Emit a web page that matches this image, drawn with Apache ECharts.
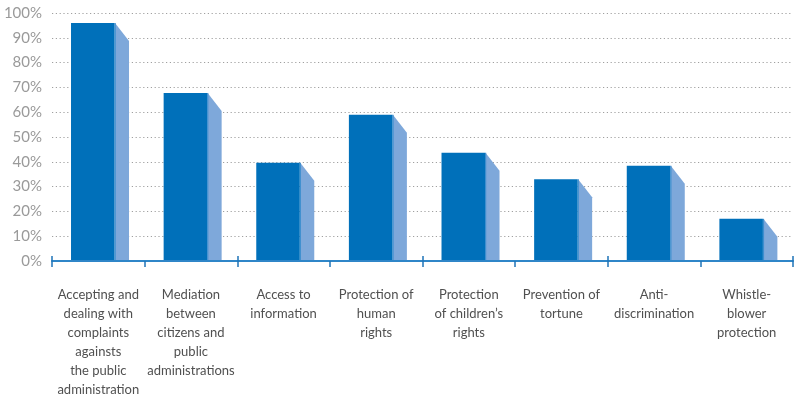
<!DOCTYPE html>
<html>
<head>
<meta charset="utf-8">
<script src="https://cdn.jsdelivr.net/npm/echarts@6/dist/echarts.min.js"></script>
<style>
html,body{margin:0;padding:0;background:#fff;}
#chart{width:794px;height:399px;}
</style>
</head>
<body>
<div id="chart"></div>
<script>
var categories = [
  "Accepting and\ndealing with\ncomplaints\nagainsts\nthe public\nadministration",
  "Mediation\nbetween\ncitizens and\npublic\nadministrations",
  "Access to\ninformation",
  "Protection of\nhuman\nrights",
  "Protection\nof children\u2019s\nrights",
  "Prevention of\ntortune",
  "Anti-\ndiscrimination",
  "Whistle-\nblower\nprotection"
];
var values = [96, 67.7, 39.6, 59, 43.6, 33, 38.4, 17];
var yTicks = [0, 10, 20, 30, 40, 50, 60, 70, 80, 90, 100];

var chart = echarts.init(document.getElementById('chart'));
var font = 'Lato, "Open Sans", sans-serif';

chart.setOption({
  animation: false,
  grid: {left: 52, right: 1, top: 13, bottom: 138, containLabel: false},
  xAxis: [{
    type: 'category',
    data: categories,
    z: 5,
    axisLine: {show: true, lineStyle: {color: '#2f86c8', width: 2}},
    axisTick: {show: true, length: 6, lineStyle: {color: '#1f74b8', width: 1.5}},
    axisLabel: {color: '#505050', fontFamily: font, fontSize: 13, lineHeight: 19, margin: 24, interval: 0},
    splitLine: {show: false}
  }, {
    type: 'category',
    data: categories,
    position: 'bottom',
    z: 5,
    axisLine: {show: false},
    axisTick: {show: true, inside: true, length: 5, lineStyle: {color: '#1f74b8', width: 1.5}},
    axisLabel: {show: false},
    splitLine: {show: false}
  }],
  yAxis: {
    type: 'value',
    min: 0, max: 100, interval: 10,
    axisLine: {show: false},
    axisTick: {show: false},
    axisLabel: {
      color: '#9a9a9a', fontFamily: font, fontSize: 15, margin: 10,
      formatter: function (v) { return yTicks.indexOf(v) >= 0 ? v + '%' : ''; }
    },
    splitLine: {show: true, lineStyle: {color: '#a0a0a0', width: 1.2, type: [1.2, 2.6]}}
  },
  series: [{
    type: 'custom',
    xAxisIndex: 0,
    data: values.map(function (v, i) { return [i, v]; }),
    renderItem: function (params, api) {
      var top = api.coord([api.value(0), api.value(1)]);
      var base = api.coord([api.value(0), 0]);
      var cx = top[0];
      var x0 = cx - 27.3, x1 = cx + 16.7, x2 = x1 + 14;
      var yt = top[1], yb = base[1];
      var ys = Math.min(yt + 18, yb);
      return {
        type: 'group',
        children: [
          {type: 'polygon', shape: {points: [[x1, yt], [x2, ys], [x2, yb], [x1, yb]]}, style: {fill: '#7ea8da'}},
          {type: 'rect', shape: {x: x1 - 0.5, y: yt, width: 1.2, height: yb - yt}, style: {fill: '#3f8fd0'}},
          {type: 'rect', shape: {x: x0, y: yt, width: x1 - x0 - 0.5, height: yb - yt}, style: {fill: '#0070ba'}}
        ]
      };
    }
  }]
});
</script>
</body>
</html>
